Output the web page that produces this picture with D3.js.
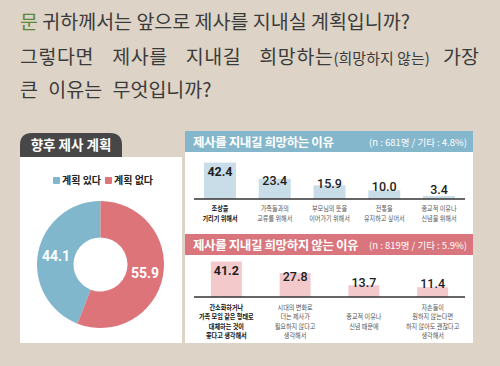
<!DOCTYPE html>
<html>
<head>
<meta charset="utf-8">
<script src="https://cdn.jsdelivr.net/npm/d3@7"></script>
<style>
  body { margin: 0; background: #ddd3c6; }
  svg { display: block; font-family: "Noto Sans CJK KR", "Noto Sans", sans-serif; }
</style>
</head>
<body>
<div id="chart"></div>
<script>
// survey data
var pieLabels = ['계획 있다', '계획 없다'];
var pieValues = [44.1, 55.9];
var pieColors = ['#80b7cc', '#dc747a'];

var wantTitle = '제사를 지내길 희망하는 이유';
var wantNote = '(n : 681명 / 기타 : 4.8%)';
var wantCats = [
  ['조상을', '기리기 위해서'],
  ['가족들과의', '교류를 위해서'],
  ['부모님의 뜻을', '이어가기 위해서'],
  ['전통을', '유지하고 싶어서'],
  ['종교적 이유나', '신념을 위해서']
];
var wantValues = [42.4, 23.4, 15.9, 10.0, 3.4];

var notTitle = '제사를 지내길 희망하지 않는 이유';
var notNote = '(n : 819명 / 기타 : 5.9%)';
var notCats = [
  ['간소화하거나', '가족 모임 같은 형태로', '대체하는 것이', '좋다고 생각해서'],
  ['시대의 변화로', '더는 제사가', '필요하지 않다고', '생각해서'],
  ['종교적 이유나', '신념 때문에'],
  ['자손들이', '원하지 않는다면', '하지 않아도 괜찮다고', '생각해서']
];
var notValues = [41.2, 27.8, 13.7, 11.4];

var width = 500, height = 366;
var svg = d3.select('#chart').append('svg')
  .attr('width', width)
  .attr('height', height);

svg.append('rect').attr('width', width).attr('height', height).attr('fill', '#ddd3c6');

// ---- question text
var q = svg.append('g').attr('fill', '#3b3b3b').style('font-size', '19.5px');
var t1 = q.append('text').attr('x', 20).attr('y', 29);
t1.append('tspan').attr('fill', '#5b8a3c').text('문');
t1.append('tspan').text(' 귀하께서는 앞으로 제사를 지내실 계획입니까?');
var t2 = q.append('text').attr('y', 64);
t2.append('tspan').attr('x', 20).style('word-spacing', '13px').style('letter-spacing', '0.6px')
  .text('그렇다면 제사를 지내길 희망하는');
t2.append('tspan').style('font-size', '15px').text('(희망하지 않는)');
t2.append('tspan').attr('x', 443).text('가장');
q.append('text').attr('x', 20).attr('y', 97).style('word-spacing', '6px').text('큰 이유는 무엇입니까?');

// ---- left panel: donut
svg.append('rect').attr('x', 20).attr('y', 157).attr('width', 162).attr('height', 186).attr('fill', '#fff');
svg.append('path')
  .attr('d', 'M20,157 V145 Q20,133 32,133 H110 Q122,133 122,145 V157 Z')
  .attr('fill', '#474747');
svg.append('text').attr('x', 71).attr('y', 150).attr('text-anchor', 'middle')
  .attr('fill', '#fff').style('font-size', '13.5px').style('font-weight', 700)
  .text('향후 제사 계획');

var legend = svg.append('g').style('font-size', '10px').style('font-weight', 700).attr('fill', '#222');
var legX = [53, 105];
pieLabels.forEach(function(l, i) {
  legend.append('rect').attr('x', legX[i]).attr('y', 177).attr('width', 7).attr('height', 7)
    .attr('rx', 1).attr('fill', pieColors[i]);
  legend.append('text').attr('x', legX[i] + 9).attr('y', 184).text(l);
});

var total = d3.sum(pieValues);
var start = -2 * Math.PI * pieValues[0] / total;
var pie = d3.pie().sort(null).startAngle(start).endAngle(start + 2 * Math.PI);
var arc = d3.arc().innerRadius(27).outerRadius(63.5);
var donut = svg.append('g').attr('transform', 'translate(100.5,264.5)');
var arcs = pie(pieValues);
donut.selectAll('path').data(arcs).enter().append('path')
  .attr('d', arc).attr('fill', function(d, i) { return pieColors[i]; });
donut.selectAll('text').data(arcs).enter().append('text')
  .attr('transform', function(d) { return 'translate(' + arc.centroid(d) + ')'; })
  .attr('text-anchor', 'middle').attr('dy', '0.36em')
  .attr('fill', '#fff').style('font-size', '14px').style('font-weight', 700)
  .style('font-family', 'Roboto, "Noto Sans", sans-serif')
  .text(function(d) { return d.data.toFixed(1); });

// ---- right panel: bar charts
svg.append('rect').attr('x', 185).attr('y', 131).attr('width', 288).attr('height', 212).attr('fill', '#fff');

function header(y, color, title, note) {
  svg.append('rect').attr('x', 185).attr('y', y).attr('width', 288).attr('height', 21).attr('fill', color);
  svg.append('text').attr('x', 193).attr('y', y + 15.5).attr('fill', '#fff')
    .style('font-size', '12.5px').style('font-weight', 700).style('letter-spacing', '-0.4px')
    .text(title);
  svg.append('text').attr('x', 467).attr('y', y + 14.5).attr('text-anchor', 'end').attr('fill', '#fff')
    .style('font-size', '9.5px').text(note);
}

function bars(cats, values, base, barColor, padIn, padOut, lineY0, lineH) {
  var x = d3.scaleBand().domain(d3.range(values.length)).range([193, 466])
    .paddingInner(padIn).paddingOuter(padOut);
  var y = d3.scaleLinear().domain([0, 50]).range([base, base - 43]);
  // label position scale, compressed so labels hug the bar tops
  var ly = d3.scaleLinear().domain([0, 50]).range([base - 4, base - 26]).clamp(true);
  var g = svg.append('g');
  g.selectAll('rect').data(values).enter().append('rect')
    .attr('x', function(d, i) { return x(i); })
    .attr('y', function(d) { return y(d); })
    .attr('width', x.bandwidth())
    .attr('height', function(d) { return base - y(d); })
    .attr('fill', barColor);
  g.append('line').attr('x1', 194).attr('x2', 465).attr('y1', base).attr('y2', base)
    .attr('stroke', '#333').attr('stroke-width', 1.3);
  g.selectAll('text.val').data(values).enter().append('text').attr('class', 'val')
    .attr('x', function(d, i) { return x(i) + x.bandwidth() / 2; })
    .attr('y', function(d) { return ly(d); })
    .attr('text-anchor', 'middle').attr('fill', '#1e1e1e')
    .style('font-size', '12.5px')
    .style('font-weight', function(d, i) { return i === 0 ? 700 : 500; })
    .style('font-family', 'Roboto, "Noto Sans", sans-serif')
    .text(function(d) { return d.toFixed(1); });
  var maxLines = d3.max(cats, function(c) { return c.length; });
  cats.forEach(function(c, i) {
    var off = (maxLines - c.length) / 2 * lineH;
    var cx = x(i) + x.bandwidth() / 2;
    // condensed type like the original infographic, one text per line
    c.forEach(function(s, j) {
      g.append('text')
        .attr('transform', 'translate(' + cx + ',' + (lineY0 + off + j * lineH) + ') scale(0.85,1)')
        .attr('text-anchor', 'middle')
        .attr('fill', i === 0 ? '#111' : '#555')
        .style('font-size', '7.2px')
        .style('font-weight', i === 0 ? 700 : 400)
        .text(s);
    });
  });
}

header(131, '#84b7cc', wantTitle, wantNote);
bars(wantCats, wantValues, 199, '#c9dde9', 0.415, 0.2, 210.5, 10);

header(234, '#d9757c', notTitle, notNote);
bars(notCats, notValues, 297, '#f3c9cc', 0.55, 0.26, 310, 9.3);
</script>
</body>
</html>
